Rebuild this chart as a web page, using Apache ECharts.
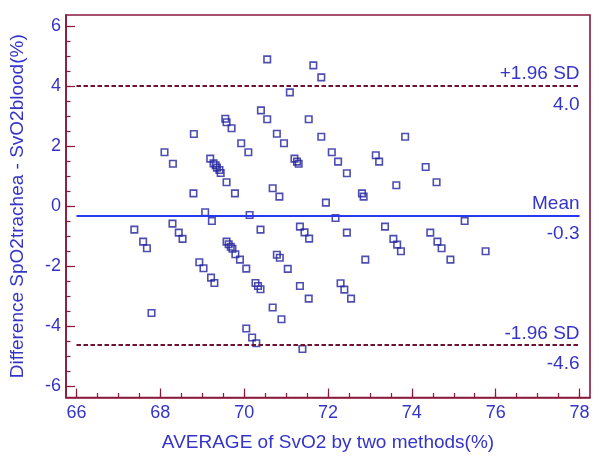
<!DOCTYPE html>
<html><head><meta charset="utf-8">
<script src="https://cdn.jsdelivr.net/npm/echarts@6/dist/echarts.min.js"></script>
<style>html,body{margin:0;padding:0;background:#fff}#c{width:600px;height:464px}</style>
</head><body><div id="c"></div>
<script>
const averageSvO2 = [70.55,71.65,71.84,71.09,70.40,70.55,71.54,69.55,69.58,69.70,68.80,70.78,69.93,70.95,71.84,73.84,68.10,68.30,70.10,72.09,72.24,72.45,73.14,73.22,74.33,74.59,73.63,69.19,69.27,69.32,69.35,69.41,69.44,69.58,71.20,71.26,71.30,68.79,69.78,70.68,70.84,71.95,72.81,72.85,
69.07,69.23,70.13,72.18,67.38,67.59,67.68,68.29,68.44,68.53,70.39,71.33,71.44,71.55,69.58,69.63,69.68,69.72,69.79,69.90,70.05,68.93,69.03,69.21,69.29,67.79,70.78,70.85,71.04,70.27,70.33,70.39,71.33,71.54,70.68,70.89,70.05,70.19,70.29,71.39,72.45,73.36,73.56,73.65,73.74,74.44,74.61,74.71,74.92,75.26,75.76,72.89,72.30,72.39,72.55];
const differenceSpO2 = [4.90,4.70,4.30,3.80,3.20,2.90,2.90,2.92,2.80,2.60,2.41,2.42,2.10,2.10,2.32,2.32,1.80,1.42,1.80,1.80,1.49,1.10,1.70,1.49,1.31,0.80,0.70,1.59,1.43,1.37,1.29,1.21,1.11,0.80,1.59,1.49,1.42,0.43,0.43,0.60,0.32,0.12,0.43,0.32,
-0.20,-0.49,-0.29,-0.39,-0.78,-1.18,-1.40,-0.58,-0.88,-1.09,-0.78,-0.68,-0.87,-1.08,-1.18,-1.27,-1.35,-1.42,-1.60,-1.78,-2.08,-1.87,-2.07,-2.38,-2.56,-3.56,-1.62,-1.72,-2.09,-2.56,-2.66,-2.77,-2.66,-3.08,-3.38,-3.77,-4.08,-4.38,-4.57,-4.76,-0.88,-0.68,-1.09,-1.28,-1.50,-0.88,-1.18,-1.40,-1.78,-0.49,-1.50,-1.78,-2.57,-2.78,-3.08];
const xTickLabels = [66,68,70,72,74,76,78];
const yTickLabels = [-6,-4,-2,0,2,4,6];
const meanDifference = -0.31;
const upperLimit = 4.01;
const lowerLimit = -4.63;
const limitNames = ['+1.96 SD','Mean','-1.96 SD'];
const xTitle = 'AVERAGE of SvO2 by two methods(%)';
const yTitle = 'Difference SpO2trachea - SvO2blood(%)';

const FONT = 'Liberation Sans, Arial, sans-serif';
const TEXT = '#3434c8';
const FRAME = '#8a1a3c';
const DASH = '#6e1232';
const MEANC = '#2638f0';

function halfSteps(arr){ const out=[]; for(let v=arr[0]; v<=arr[arr.length-1]+1e-9; v+=0.5) out.push(+v.toFixed(2)); return out; }
const xMinor = halfSteps(xTickLabels);
const yMinor = halfSteps(yTickLabels);

const xMin = 65.75, xMax = 78.25, yMin = -6.38, yMax = 6.38;
const lineX0 = xTickLabels[0], lineX1 = xTickLabels[xTickLabels.length-1];

function limitLine(v, name, style, dTop, dBot){
  return [
    [{coord:[lineX0, v], lineStyle:style, label:{show:true, position:'insideEndTop', formatter:name, distance:[0,dTop], color:TEXT, fontSize:19, fontFamily:FONT}}, {coord:[lineX1, v]}],
    [{coord:[lineX0, v], lineStyle:{color:'rgba(0,0,0,0)', width:0.1}, label:{show:true, position:'insideEndBottom', formatter:v.toFixed(1), distance:[0,dBot], color:TEXT, fontSize:19, fontFamily:FONT}}, {coord:[lineX1, v]}]
  ];
}
const dashStyle = {color:DASH, width:2.2, type:[4.5,2.5]};
const meanStyle = {color:MEANC, width:1.8, type:'solid'};

const chart = echarts.init(document.getElementById('c'), null, {renderer:'canvas'});
chart.setOption({
  animation:false,
  backgroundColor:'#fff',
  textStyle:{fontFamily:FONT},
  grid:{left:66, right:10, top:15, bottom:66.5, show:true, borderColor:FRAME, borderWidth:1.6, backgroundColor:'transparent'},
  xAxis:[{
    type:'value', min:xMin, max:xMax, position:'bottom',
    axisLine:{show:true, onZero:false, lineStyle:{color:FRAME, width:1.6}},
    axisTick:{show:true, inside:true, length:9, customValues:xTickLabels, lineStyle:{color:FRAME, width:1.2}},
    axisLabel:{customValues:xTickLabels, color:TEXT, fontSize:18, fontFamily:FONT, margin:7},
    splitLine:{show:false},
    name:xTitle, nameLocation:'middle', nameGap:36, nameTextStyle:{color:TEXT, fontSize:19, fontFamily:FONT}
  },{
    type:'value', min:xMin, max:xMax, position:'bottom',
    axisLine:{show:false, onZero:false},
    axisTick:{show:true, inside:true, length:4.5, customValues:xMinor, lineStyle:{color:FRAME, width:1.2}},
    axisLabel:{show:false}, splitLine:{show:false}
  }],
  yAxis:[{
    type:'value', min:yMin, max:yMax, position:'left',
    axisLine:{show:true, onZero:false, lineStyle:{color:FRAME, width:1.6}},
    axisTick:{show:true, inside:true, length:9, customValues:yTickLabels, lineStyle:{color:FRAME, width:1.2}},
    axisLabel:{customValues:yTickLabels, color:TEXT, fontSize:18, fontFamily:FONT, margin:5},
    splitLine:{show:false},
    name:yTitle, nameLocation:'middle', nameRotate:90, nameGap:39, nameTextStyle:{color:TEXT, fontSize:19, fontFamily:FONT}
  },{
    type:'value', min:yMin, max:yMax, position:'left',
    axisLine:{show:false, onZero:false},
    axisTick:{show:true, inside:true, length:4.5, customValues:yMinor, lineStyle:{color:FRAME, width:1.2}},
    axisLabel:{show:false}, splitLine:{show:false}
  }],
  series:[{
    type:'scatter', xAxisIndex:0, yAxisIndex:0,
    data: averageSvO2.map((x,i)=>[x, differenceSpO2[i]]),
    symbol:'rect', symbolSize:6.5,
    itemStyle:{color:'rgba(0,0,0,0)', borderColor:'#22229e', borderWidth:1.6},
    markLine:{
      silent:true, symbol:['none','none'], animation:false,
      data:[
        ...limitLine(upperLimit, limitNames[0], dashStyle, 3, 9),
        ...limitLine(meanDifference, limitNames[1], meanStyle, 2, 9),
        ...limitLine(lowerLimit, limitNames[2], dashStyle, 2, 9)
      ]
    }
  }]
});
</script></body></html>
